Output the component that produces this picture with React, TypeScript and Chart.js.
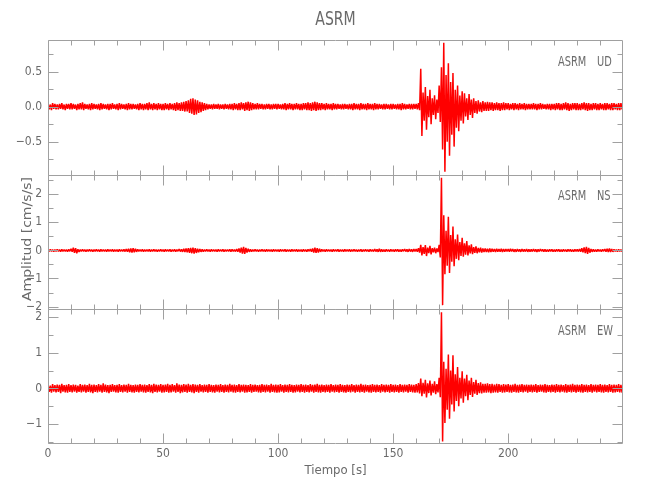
import React, { useEffect, useRef } from 'react';
import { Chart, registerables } from 'chart.js';

Chart.register(...registerables);

// ---------- data (1-second bins: max and min of each second) ----------
const TITLE = 'ASRM';
const STATION = 'ASRM';
const COMPONENTS = ['UD', 'NS', 'EW'];
const X_TITLE = 'Tiempo [s]';
const Y_TITLE = 'Amplitud [cm/s/s]';

const X_MIN = 0;
const X_MAX = 249.9;
const X_MAJOR_TICKS = [0, 50, 100, 150, 200];
const X_MINOR_STEP = 10;

const UD_RANGE = [-0.97, 0.95];
const UD_TICKS = [-0.5, 0, 0.5];
const UD_TICK_LABELS = ['\u22120.5', '0.0', '0.5'];
const UD_MINOR_STEP = 0.25;

const NS_RANGE = [-2.1, 2.7];
const NS_TICKS = [-2, -1, 0, 1, 2];
const NS_TICK_LABELS = ['\u22122', '\u22121', '0', '1', '2'];
const NS_MINOR_STEP = 0.5;

const EW_RANGE = [-1.56, 2.22];
const EW_TICKS = [-1, 0, 1, 2];
const EW_TICK_LABELS = ['\u22121', '0', '1', '2'];
const EW_MINOR_STEP = 0.5;

const UD_HIGH = [
  0.04, 0.03, 0.05, 0.04, 0.03, 0.04, 0.05, 0.03, 0.04, 0.04,
  0.05, 0.04, 0.03, 0.04, 0.05, 0.06, 0.04, 0.03, 0.04, 0.05,
  0.04, 0.03, 0.04, 0.05, 0.04, 0.03, 0.04, 0.04, 0.05, 0.03,
  0.04, 0.05, 0.04, 0.03, 0.04, 0.05, 0.04, 0.04, 0.03, 0.04,
  0.05, 0.04, 0.04, 0.05, 0.06, 0.04, 0.05, 0.04, 0.05, 0.04,
  0.04, 0.05, 0.04, 0.05, 0.04, 0.05, 0.06, 0.05, 0.06, 0.07,
  0.08, 0.09, 0.11, 0.12, 0.10, 0.09, 0.07, 0.06, 0.05, 0.04,
  0.03, 0.03, 0.04, 0.03, 0.04, 0.03, 0.03, 0.04, 0.03, 0.04,
  0.04, 0.05, 0.04, 0.05, 0.06, 0.05, 0.06, 0.07, 0.06, 0.05,
  0.04, 0.05, 0.04, 0.04, 0.03, 0.04, 0.04, 0.03, 0.04, 0.04,
  0.04, 0.03, 0.04, 0.05, 0.04, 0.05, 0.04, 0.04, 0.05, 0.04,
  0.04, 0.05, 0.05, 0.06, 0.05, 0.06, 0.07, 0.06, 0.05, 0.05,
  0.04, 0.05, 0.04, 0.04, 0.05, 0.04, 0.04, 0.03, 0.04, 0.04,
  0.03, 0.04, 0.04, 0.05, 0.04, 0.04, 0.05, 0.04, 0.04, 0.05,
  0.04, 0.04, 0.05, 0.04, 0.04, 0.03, 0.04, 0.04, 0.03, 0.04,
  0.04, 0.03, 0.04, 0.04, 0.05, 0.04, 0.03, 0.04, 0.04, 0.04,
  0.04, 0.05, 0.54, 0.20, 0.28, 0.15, 0.24, 0.12, 0.16, 0.10,
  0.30, 0.56, 0.91, 0.45, 0.62, 0.35, 0.48, 0.24, 0.30, 0.16,
  0.22, 0.19, 0.12, 0.18, 0.10, 0.12, 0.08, 0.09, 0.06, 0.08,
  0.06, 0.07, 0.06, 0.06, 0.05, 0.06, 0.05, 0.05, 0.06, 0.05,
  0.05, 0.04, 0.05, 0.05, 0.04, 0.05, 0.04, 0.05, 0.04, 0.04,
  0.04, 0.05, 0.04, 0.04, 0.05, 0.04, 0.03, 0.04, 0.04, 0.04,
  0.04, 0.05, 0.05, 0.04, 0.05, 0.06, 0.05, 0.04, 0.05, 0.05,
  0.05, 0.04, 0.05, 0.06, 0.05, 0.05, 0.04, 0.05, 0.05, 0.04,
  0.05, 0.04, 0.05, 0.05, 0.04, 0.05, 0.05, 0.04, 0.05, 0.05,
];
const UD_LOW = [
  -0.04, -0.05, -0.03, -0.04, -0.04, -0.03, -0.04, -0.05, -0.03, -0.04,
  -0.04, -0.03, -0.05, -0.04, -0.04, -0.05, -0.03, -0.04, -0.05, -0.04,
  -0.03, -0.04, -0.05, -0.04, -0.03, -0.04, -0.05, -0.04, -0.03, -0.04,
  -0.05, -0.04, -0.03, -0.04, -0.05, -0.04, -0.04, -0.03, -0.04, -0.05,
  -0.04, -0.05, -0.04, -0.05, -0.04, -0.05, -0.04, -0.05, -0.04, -0.05,
  -0.05, -0.04, -0.05, -0.04, -0.05, -0.06, -0.05, -0.06, -0.06, -0.07,
  -0.07, -0.09, -0.10, -0.12, -0.11, -0.09, -0.08, -0.06, -0.05, -0.04,
  -0.03, -0.04, -0.03, -0.03, -0.04, -0.03, -0.04, -0.03, -0.04, -0.04,
  -0.05, -0.04, -0.05, -0.05, -0.04, -0.06, -0.05, -0.06, -0.05, -0.04,
  -0.04, -0.04, -0.03, -0.04, -0.04, -0.03, -0.04, -0.04, -0.03, -0.04,
  -0.03, -0.04, -0.04, -0.05, -0.04, -0.04, -0.05, -0.04, -0.04, -0.05,
  -0.05, -0.04, -0.05, -0.05, -0.06, -0.05, -0.06, -0.05, -0.05, -0.04,
  -0.05, -0.04, -0.04, -0.05, -0.04, -0.04, -0.03, -0.04, -0.04, -0.03,
  -0.04, -0.04, -0.05, -0.04, -0.04, -0.05, -0.04, -0.04, -0.05, -0.04,
  -0.04, -0.05, -0.04, -0.04, -0.03, -0.04, -0.04, -0.03, -0.04, -0.04,
  -0.03, -0.04, -0.04, -0.05, -0.04, -0.04, -0.03, -0.04, -0.04, -0.03,
  -0.04, -0.05, -0.42, -0.20, -0.33, -0.15, -0.25, -0.12, -0.18, -0.09,
  -0.22, -0.61, -0.93, -0.50, -0.70, -0.40, -0.57, -0.30, -0.35, -0.20,
  -0.24, -0.14, -0.19, -0.12, -0.16, -0.09, -0.10, -0.07, -0.08, -0.06,
  -0.06, -0.06, -0.05, -0.06, -0.05, -0.05, -0.06, -0.05, -0.05, -0.04,
  -0.05, -0.04, -0.05, -0.04, -0.05, -0.04, -0.04, -0.05, -0.04, -0.04,
  -0.04, -0.04, -0.05, -0.04, -0.04, -0.03, -0.04, -0.04, -0.05, -0.04,
  -0.05, -0.04, -0.05, -0.05, -0.04, -0.05, -0.06, -0.05, -0.04, -0.05,
  -0.05, -0.05, -0.04, -0.05, -0.06, -0.05, -0.05, -0.04, -0.05, -0.05,
  -0.04, -0.05, -0.05, -0.04, -0.05, -0.05, -0.04, -0.05, -0.05, -0.04,
];

const NS_HIGH = [
  0.03, 0.04, 0.03, 0.03, 0.04, 0.03, 0.04, 0.03, 0.03, 0.04,
  0.06, 0.10, 0.08, 0.04, 0.03, 0.04, 0.03, 0.03, 0.04, 0.03,
  0.03, 0.04, 0.03, 0.04, 0.03, 0.03, 0.04, 0.03, 0.04, 0.03,
  0.03, 0.04, 0.03, 0.04, 0.05, 0.06, 0.07, 0.08, 0.06, 0.04,
  0.03, 0.04, 0.03, 0.03, 0.04, 0.03, 0.04, 0.03, 0.03, 0.04,
  0.03, 0.04, 0.03, 0.04, 0.03, 0.04, 0.03, 0.05, 0.04, 0.06,
  0.07, 0.08, 0.09, 0.10, 0.08, 0.06, 0.05, 0.04, 0.03, 0.04,
  0.03, 0.04, 0.03, 0.03, 0.04, 0.03, 0.04, 0.03, 0.03, 0.04,
  0.04, 0.03, 0.05, 0.07, 0.10, 0.13, 0.09, 0.06, 0.04, 0.03,
  0.04, 0.03, 0.03, 0.04, 0.03, 0.04, 0.03, 0.03, 0.04, 0.03,
  0.03, 0.04, 0.03, 0.04, 0.03, 0.03, 0.04, 0.03, 0.04, 0.03,
  0.03, 0.04, 0.03, 0.04, 0.05, 0.07, 0.10, 0.08, 0.06, 0.04,
  0.03, 0.04, 0.03, 0.03, 0.04, 0.03, 0.04, 0.03, 0.03, 0.04,
  0.03, 0.04, 0.03, 0.04, 0.03, 0.03, 0.04, 0.03, 0.04, 0.03,
  0.04, 0.03, 0.05, 0.04, 0.06, 0.04, 0.03, 0.04, 0.03, 0.04,
  0.03, 0.04, 0.04, 0.03, 0.04, 0.05, 0.04, 0.05, 0.04, 0.05,
  0.05, 0.08, 0.20, 0.12, 0.19, 0.10, 0.16, 0.08, 0.10, 0.07,
  0.20, 2.59, 1.25, 0.70, 1.20, 0.55, 0.85, 0.40, 0.57, 0.30,
  0.45, 0.25, 0.33, 0.18, 0.22, 0.12, 0.14, 0.09, 0.10, 0.07,
  0.07, 0.06, 0.07, 0.06, 0.05, 0.06, 0.05, 0.06, 0.05, 0.05,
  0.05, 0.06, 0.05, 0.04, 0.05, 0.04, 0.05, 0.04, 0.05, 0.04,
  0.04, 0.05, 0.04, 0.04, 0.05, 0.04, 0.04, 0.03, 0.04, 0.04,
  0.03, 0.04, 0.04, 0.03, 0.04, 0.03, 0.04, 0.04, 0.03, 0.04,
  0.04, 0.05, 0.08, 0.11, 0.13, 0.09, 0.05, 0.04, 0.03, 0.04,
  0.03, 0.04, 0.05, 0.06, 0.07, 0.05, 0.04, 0.03, 0.04, 0.03,
];
const NS_LOW = [
  -0.03, -0.03, -0.04, -0.03, -0.03, -0.04, -0.03, -0.03, -0.04, -0.03,
  -0.05, -0.09, -0.10, -0.05, -0.03, -0.03, -0.04, -0.03, -0.03, -0.04,
  -0.03, -0.03, -0.04, -0.03, -0.03, -0.04, -0.03, -0.03, -0.04, -0.03,
  -0.04, -0.03, -0.03, -0.04, -0.05, -0.07, -0.08, -0.07, -0.05, -0.03,
  -0.03, -0.04, -0.03, -0.03, -0.04, -0.03, -0.03, -0.04, -0.03, -0.03,
  -0.04, -0.03, -0.03, -0.04, -0.03, -0.04, -0.03, -0.04, -0.05, -0.06,
  -0.07, -0.09, -0.10, -0.11, -0.09, -0.07, -0.05, -0.04, -0.03, -0.03,
  -0.04, -0.03, -0.03, -0.04, -0.03, -0.03, -0.04, -0.03, -0.03, -0.04,
  -0.03, -0.04, -0.05, -0.08, -0.11, -0.12, -0.08, -0.05, -0.04, -0.03,
  -0.03, -0.04, -0.03, -0.03, -0.04, -0.03, -0.03, -0.04, -0.03, -0.03,
  -0.04, -0.03, -0.03, -0.04, -0.03, -0.04, -0.03, -0.03, -0.04, -0.03,
  -0.04, -0.03, -0.04, -0.03, -0.05, -0.08, -0.09, -0.08, -0.05, -0.03,
  -0.04, -0.03, -0.03, -0.04, -0.03, -0.03, -0.04, -0.03, -0.04, -0.03,
  -0.03, -0.04, -0.03, -0.03, -0.04, -0.03, -0.04, -0.03, -0.03, -0.04,
  -0.03, -0.04, -0.04, -0.05, -0.05, -0.04, -0.04, -0.03, -0.04, -0.03,
  -0.04, -0.03, -0.04, -0.04, -0.03, -0.04, -0.05, -0.04, -0.05, -0.04,
  -0.05, -0.08, -0.18, -0.12, -0.20, -0.10, -0.14, -0.07, -0.10, -0.06,
  -0.25, -1.95, -0.85, -0.55, -0.80, -0.40, -0.56, -0.30, -0.35, -0.20,
  -0.22, -0.15, -0.18, -0.11, -0.13, -0.09, -0.10, -0.07, -0.08, -0.06,
  -0.06, -0.07, -0.06, -0.05, -0.06, -0.05, -0.05, -0.06, -0.05, -0.04,
  -0.05, -0.04, -0.05, -0.05, -0.04, -0.05, -0.04, -0.04, -0.05, -0.04,
  -0.04, -0.04, -0.05, -0.04, -0.03, -0.04, -0.04, -0.04, -0.03, -0.04,
  -0.04, -0.03, -0.04, -0.04, -0.03, -0.04, -0.03, -0.04, -0.04, -0.03,
  -0.04, -0.05, -0.07, -0.10, -0.12, -0.08, -0.05, -0.04, -0.04, -0.03,
  -0.04, -0.03, -0.05, -0.06, -0.06, -0.05, -0.03, -0.04, -0.03, -0.04,
];

const EW_HIGH = [
  0.10, 0.08, 0.12, 0.09, 0.11, 0.10, 0.13, 0.09, 0.10, 0.12,
  0.09, 0.11, 0.10, 0.08, 0.12, 0.10, 0.11, 0.09, 0.13, 0.10,
  0.11, 0.09, 0.12, 0.10, 0.14, 0.11, 0.09, 0.10, 0.12, 0.09,
  0.10, 0.12, 0.09, 0.11, 0.10, 0.13, 0.10, 0.09, 0.11, 0.10,
  0.12, 0.10, 0.11, 0.09, 0.12, 0.10, 0.13, 0.11, 0.10, 0.12,
  0.10, 0.11, 0.13, 0.10, 0.12, 0.09, 0.14, 0.11, 0.10, 0.12,
  0.11, 0.13, 0.10, 0.12, 0.11, 0.10, 0.12, 0.09, 0.11, 0.10,
  0.12, 0.10, 0.09, 0.11, 0.10, 0.12, 0.09, 0.11, 0.10, 0.13,
  0.10, 0.11, 0.09, 0.12, 0.10, 0.11, 0.10, 0.09, 0.12, 0.10,
  0.11, 0.09, 0.10, 0.12, 0.10, 0.11, 0.09, 0.13, 0.10, 0.11,
  0.10, 0.12, 0.09, 0.11, 0.10, 0.12, 0.10, 0.09, 0.11, 0.10,
  0.12, 0.10, 0.11, 0.09, 0.12, 0.10, 0.11, 0.13, 0.10, 0.11,
  0.09, 0.11, 0.10, 0.12, 0.09, 0.11, 0.10, 0.12, 0.10, 0.09,
  0.11, 0.10, 0.12, 0.09, 0.11, 0.10, 0.13, 0.10, 0.11, 0.09,
  0.10, 0.12, 0.10, 0.11, 0.09, 0.12, 0.10, 0.11, 0.10, 0.12,
  0.10, 0.11, 0.09, 0.12, 0.10, 0.11, 0.10, 0.12, 0.11, 0.10,
  0.12, 0.15, 0.28, 0.16, 0.24, 0.14, 0.22, 0.13, 0.20, 0.12,
  0.30, 2.14, 0.75, 0.55, 0.95, 0.50, 0.93, 0.40, 0.60, 0.30,
  0.48, 0.28, 0.38, 0.22, 0.30, 0.18, 0.24, 0.15, 0.17, 0.13,
  0.13, 0.14, 0.12, 0.13, 0.11, 0.13, 0.12, 0.10, 0.12, 0.11,
  0.12, 0.10, 0.11, 0.13, 0.10, 0.11, 0.12, 0.10, 0.11, 0.10,
  0.11, 0.10, 0.12, 0.09, 0.11, 0.10, 0.12, 0.10, 0.09, 0.11,
  0.10, 0.12, 0.10, 0.11, 0.09, 0.12, 0.10, 0.11, 0.13, 0.10,
  0.11, 0.10, 0.12, 0.10, 0.11, 0.09, 0.12, 0.10, 0.11, 0.10,
  0.12, 0.10, 0.11, 0.09, 0.12, 0.10, 0.11, 0.10, 0.12, 0.10,
];
const EW_LOW = [
  -0.10, -0.12, -0.09, -0.11, -0.10, -0.13, -0.09, -0.11, -0.12, -0.10,
  -0.11, -0.09, -0.12, -0.10, -0.11, -0.09, -0.12, -0.10, -0.11, -0.13,
  -0.10, -0.11, -0.09, -0.12, -0.10, -0.11, -0.13, -0.10, -0.09, -0.11,
  -0.12, -0.10, -0.11, -0.09, -0.12, -0.10, -0.11, -0.12, -0.10, -0.11,
  -0.09, -0.11, -0.12, -0.10, -0.11, -0.13, -0.10, -0.11, -0.09, -0.12,
  -0.11, -0.10, -0.12, -0.11, -0.09, -0.12, -0.10, -0.13, -0.11, -0.10,
  -0.12, -0.10, -0.11, -0.13, -0.10, -0.12, -0.09, -0.11, -0.10, -0.12,
  -0.10, -0.11, -0.12, -0.09, -0.11, -0.10, -0.12, -0.10, -0.11, -0.09,
  -0.11, -0.12, -0.10, -0.11, -0.09, -0.12, -0.11, -0.10, -0.12, -0.10,
  -0.09, -0.11, -0.12, -0.10, -0.11, -0.09, -0.12, -0.10, -0.11, -0.12,
  -0.11, -0.09, -0.12, -0.10, -0.11, -0.10, -0.12, -0.11, -0.09, -0.11,
  -0.10, -0.12, -0.10, -0.11, -0.09, -0.12, -0.10, -0.11, -0.12, -0.10,
  -0.11, -0.10, -0.12, -0.09, -0.11, -0.10, -0.12, -0.10, -0.11, -0.12,
  -0.10, -0.11, -0.09, -0.12, -0.10, -0.11, -0.10, -0.12, -0.09, -0.11,
  -0.12, -0.10, -0.11, -0.10, -0.12, -0.09, -0.11, -0.10, -0.12, -0.10,
  -0.11, -0.10, -0.12, -0.10, -0.11, -0.09, -0.12, -0.10, -0.11, -0.12,
  -0.11, -0.14, -0.22, -0.15, -0.25, -0.13, -0.20, -0.12, -0.16, -0.11,
  -0.25, -1.49, -0.97, -0.60, -0.85, -0.45, -0.65, -0.35, -0.50, -0.28,
  -0.40, -0.22, -0.33, -0.18, -0.24, -0.15, -0.18, -0.13, -0.14, -0.12,
  -0.12, -0.11, -0.13, -0.12, -0.11, -0.12, -0.10, -0.12, -0.11, -0.10,
  -0.11, -0.12, -0.10, -0.11, -0.12, -0.10, -0.11, -0.09, -0.12, -0.10,
  -0.11, -0.10, -0.12, -0.10, -0.09, -0.11, -0.12, -0.10, -0.11, -0.10,
  -0.12, -0.10, -0.11, -0.09, -0.11, -0.12, -0.10, -0.11, -0.10, -0.12,
  -0.10, -0.11, -0.12, -0.10, -0.11, -0.10, -0.12, -0.09, -0.11, -0.10,
  -0.11, -0.12, -0.10, -0.11, -0.10, -0.12, -0.11, -0.10, -0.11, -0.12,
];

// ---------- styles ----------
const FONT_FAMILY = "'Liberation Sans Narrow', 'DejaVu Sans Condensed', 'Roboto Condensed', Roboto, 'Liberation Sans', sans-serif";
const TEXT_COLOR = '#6a6a6a';
const AXIS_COLOR = '#a0a0a0';
const TRACE_COLOR = '#ff0000';

// Each second holds its maximum then its minimum.
function toTrace(high: number[], low: number[]) {
  const pts: { x: number; y: number }[] = [];
  for (let i = 0; i < high.length; i++) {
    pts.push({ x: i, y: high[i] });
    pts.push({ x: i + 0.5, y: low[i] });
  }
  return pts;
}

const PANELS = [
  { id: 'yUD', comp: COMPONENTS[0], range: UD_RANGE, ticks: UD_TICKS, labels: UD_TICK_LABELS, minor: UD_MINOR_STEP, weight: 3 },
  { id: 'yNS', comp: COMPONENTS[1], range: NS_RANGE, ticks: NS_TICKS, labels: NS_TICK_LABELS, minor: NS_MINOR_STEP, weight: 2 },
  { id: 'yEW', comp: COMPONENTS[2], range: EW_RANGE, ticks: EW_TICKS, labels: EW_TICK_LABELS, minor: EW_MINOR_STEP, weight: 1 },
];

function drawText(ctx: CanvasRenderingContext2D, text: string, x: number, y: number, size: number, sx: number, align: 'left' | 'center', rot = 0) {
  ctx.save();
  ctx.font = `${size}px ${FONT_FAMILY}`;
  ctx.fillStyle = TEXT_COLOR;
  ctx.textBaseline = 'middle';
  ctx.textAlign = align;
  ctx.translate(x, y);
  if (rot) ctx.rotate(rot);
  ctx.scale(sx, 1);
  ctx.fillText(text, 0, 0);
  ctx.restore();
}

const framePlugin = {
  id: 'framePlugin',
  afterDraw(chart: any) {
    const ctx: CanvasRenderingContext2D = chart.ctx;
    const { left, right } = chart.chartArea;
    const xs = chart.scales.x;
    ctx.save();
    ctx.strokeStyle = AXIS_COLOR;
    ctx.lineWidth = 1;
    const MAJ = 10;
    const MIN = 5;
    const L = Math.round(left) + 0.5;
    const R = Math.round(right) - 0.5;
    PANELS.forEach((p, idx) => {
      const s = chart.scales[p.id];
      const T = Math.round(s.top) + 0.5;
      const B = idx === PANELS.length - 1 ? Math.round(s.bottom) - 0.5 : Math.round(s.bottom) + 0.5;
      ctx.beginPath();
      ctx.rect(L, T, R - L, B - T);
      // y ticks
      const lo = p.range[0];
      const hi = p.range[1];
      const start = Math.ceil(lo / p.minor) * p.minor;
      for (let v = start; v <= hi + 1e-9; v += p.minor) {
        const major = p.ticks.some((t) => Math.abs(t - v) < 1e-6);
        const len = major ? MAJ : MIN;
        const py = Math.round(s.getPixelForValue(v)) + 0.5;
        ctx.moveTo(L, py);
        ctx.lineTo(L + len, py);
        ctx.moveTo(R, py);
        ctx.lineTo(R - len, py);
      }
      // x ticks on top and bottom of each panel
      for (let v = X_MIN; v <= X_MAX; v += X_MINOR_STEP) {
        const major = X_MAJOR_TICKS.includes(v);
        const len = major ? MAJ : MIN;
        const px = Math.round(xs.getPixelForValue(v)) + 0.5;
        ctx.moveTo(px, T);
        ctx.lineTo(px, T + len);
        ctx.moveTo(px, B);
        ctx.lineTo(px, B - len);
      }
      ctx.stroke();
      // panel label
      drawText(ctx, STATION, 558, s.top + 22, 14, 0.78, 'left');
      drawText(ctx, p.comp, 597, s.top + 22, 14, 0.78, 'left');
    });
    // main title
    drawText(ctx, TITLE, (left + right) / 2, 20, 20, 0.78, 'center');
    // y-axis title, centred on the middle panel
    const mid = chart.scales[PANELS[1].id];
    drawText(ctx, Y_TITLE, 28, (mid.top + mid.bottom) / 2 - 3, 12, 1.3, 'center', -Math.PI / 2);
    ctx.restore();
  },
};

export default function App() {
  const ref = useRef<HTMLCanvasElement | null>(null);
  useEffect(() => {
    if (!ref.current) return;
    const tickFont = { family: FONT_FAMILY, size: 12 };
    const yScales: any = {};
    PANELS.forEach((p) => {
      yScales[p.id] = {
        type: 'linear',
        position: 'left',
        stack: 'panels',
        stackWeight: 1,
        weight: p.weight,
        offset: false,
        min: p.range[0],
        max: p.range[1],
        grid: { display: false, drawTicks: false },
        border: { display: false },
        ticks: {
          font: tickFont,
          color: TEXT_COLOR,
          padding: 6,
          callback: (_v: any, i: number) => p.labels[i],
        },
        afterBuildTicks: (s: any) => {
          s.ticks = p.ticks.map((v) => ({ value: v }));
        },
        afterFit: (s: any) => {
          s.width = 48;
        },
        title: { display: false },
      };
    });
    const traces = [toTrace(UD_HIGH, UD_LOW), toTrace(NS_HIGH, NS_LOW), toTrace(EW_HIGH, EW_LOW)];
    const chart = new Chart(ref.current, {
      type: 'line',
      data: {
        datasets: PANELS.map((p, i) => ({
          label: p.comp,
          data: traces[i],
          yAxisID: p.id,
          borderColor: TRACE_COLOR,
          borderWidth: 1.5,
          borderJoinStyle: 'bevel',
          borderCapStyle: 'butt',
          pointRadius: 0,
          fill: false,
          tension: 0,
        })),
      },
      options: {
        animation: false,
        responsive: false,
        maintainAspectRatio: false,
        parsing: false,
        normalized: true,
        layout: { padding: { top: 40, right: 27, left: 0, bottom: 0 } },
        plugins: { legend: { display: false }, tooltip: { enabled: false }, title: { display: false } },
        scales: {
          x: {
            type: 'linear',
            position: 'bottom',
            min: X_MIN,
            max: X_MAX,
            grid: { display: false, drawTicks: false },
            border: { display: false },
            ticks: { font: tickFont, color: TEXT_COLOR, padding: 3, maxRotation: 0, autoSkip: false },
            afterBuildTicks: (s: any) => {
              s.ticks = X_MAJOR_TICKS.map((v) => ({ value: v }));
            },
            afterFit: (s: any) => {
              s.height = 56;
            },
            title: { display: true, text: X_TITLE, color: TEXT_COLOR, font: { family: FONT_FAMILY, size: 13 }, padding: { top: 0, bottom: 22 } },
          },
          ...yScales,
        },
      } as any,
      plugins: [framePlugin],
    });
    return () => chart.destroy();
  }, []);
  return (
    <div style={{ position: 'fixed', left: 0, top: 0, width: 650, height: 500, background: '#fff' }}>
      <canvas ref={ref} width={650} height={500} />
    </div>
  );
}
